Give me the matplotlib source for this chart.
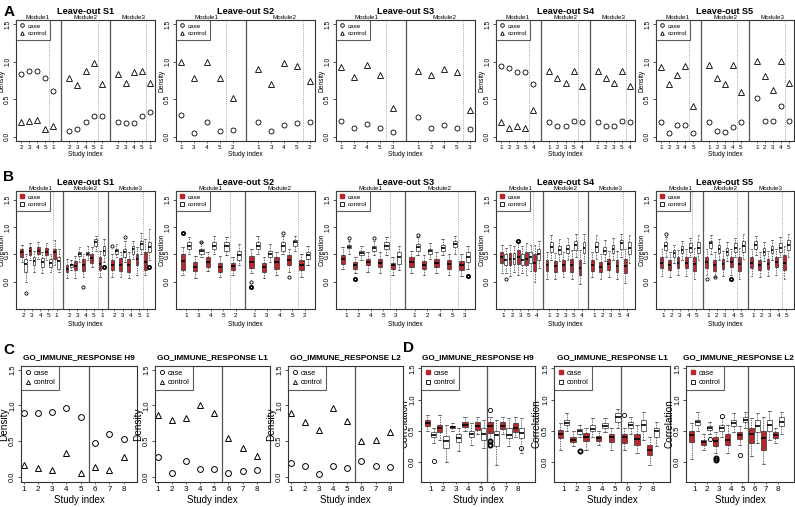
import matplotlib
matplotlib.use('Agg')
import matplotlib.pyplot as plt
from matplotlib.lines import Line2D
import matplotlib.transforms as mtransforms

plt.rcParams['font.family'] = ['Liberation Sans', 'DejaVu Sans']

W, H = 795, 507
RED = '#b8272b'
EDGE = '#333333'

# ---------------- leave-out layout ----------------
lo_titles = ['Leave-out S1', 'Leave-out S2', 'Leave-out S3', 'Leave-out S4', 'Leave-out S5']
lo_modules = [3, 2, 2, 3, 3]
lo_labels = [['2', '3', '4', '5', '1'], ['1', '3', '4', '5', '2'], ['1', '2', '4', '5', '3'],
             ['1', '2', '3', '5', '4'], ['1', '2', '3', '4', '5']]

# ---------------- A: density (case / control) ----------------
a_case = [
    [0.84, 0.88, 0.88, 0.78, 0.61, 0.08, 0.10, 0.20, 0.28, 0.28, 0.19, 0.18, 0.18, 0.28, 0.33],
    [0.29, 0.05, 0.20, 0.07, 0.09, 0.19, 0.07, 0.15, 0.18, 0.20],
    [0.21, 0.11, 0.17, 0.11, 0.06, 0.26, 0.11, 0.16, 0.11, 0.10],
    [0.94, 0.92, 0.86, 0.86, 0.70, 0.19, 0.14, 0.14, 0.21, 0.19, 0.19, 0.14, 0.14, 0.21, 0.19],
    [0.19, 0.05, 0.16, 0.16, 0.05, 0.19, 0.08, 0.06, 0.13, 0.19, 0.51, 0.21, 0.21, 0.41, 0.21],
]
a_ctrl = [
    [0.19, 0.21, 0.22, 0.10, 0.14, 0.79, 0.69, 0.88, 0.99, 0.70, 0.84, 0.71, 0.87, 0.88, 0.71],
    [1.00, 0.79, 1.00, 0.79, 0.51, 0.90, 0.70, 0.99, 0.94, 0.74],
    [0.93, 0.80, 0.96, 0.82, 0.38, 0.88, 0.82, 0.91, 0.86, 0.35],
    [0.19, 0.12, 0.14, 0.11, 0.35, 0.88, 0.78, 0.72, 0.88, 0.68, 0.88, 0.78, 0.72, 0.88, 0.68],
    [0.93, 0.70, 0.83, 0.95, 0.41, 0.96, 0.78, 0.70, 0.96, 0.59, 1.01, 0.81, 0.62, 1.01, 0.72],
]

# ---------------- B: correlation boxes (lo, q1, med, q3, hi) ----------------
b_case = [
    [(0.36, 0.45, 0.54, 0.60, 0.67), (0.39, 0.48, 0.56, 0.63, 0.71), (0.41, 0.50, 0.57, 0.63, 0.72),
     (0.39, 0.48, 0.55, 0.61, 0.71), (0.30, 0.42, 0.54, 0.60, 0.77),
     (0.06, 0.17, 0.24, 0.30, 0.42), (0.06, 0.21, 0.28, 0.37, 0.47), (0.09, 0.19, 0.30, 0.41, 0.51),
     (0.27, 0.35, 0.43, 0.51, 0.63), (0.09, 0.21, 0.33, 0.45, 0.57),
     (0.09, 0.21, 0.30, 0.39, 0.51), (0.09, 0.19, 0.30, 0.43, 0.54), (0.06, 0.17, 0.30, 0.41, 0.54),
     (0.12, 0.30, 0.41, 0.51, 0.63), (0.12, 0.21, 0.36, 0.54, 0.78)],
    [(0.12, 0.21, 0.37, 0.51, 0.63), (0.07, 0.19, 0.27, 0.36, 0.47), (0.19, 0.27, 0.36, 0.45, 0.54),
     (0.09, 0.18, 0.27, 0.35, 0.47), (0.12, 0.21, 0.28, 0.34, 0.45),
     (0.15, 0.25, 0.36, 0.47, 0.59), (0.07, 0.17, 0.27, 0.35, 0.45), (0.12, 0.24, 0.36, 0.45, 0.55),
     (0.18, 0.30, 0.39, 0.48, 0.60), (0.09, 0.21, 0.30, 0.39, 0.51)],
    [(0.24, 0.33, 0.41, 0.48, 0.63), (0.15, 0.24, 0.30, 0.36, 0.45), (0.18, 0.30, 0.36, 0.42, 0.54),
     (0.15, 0.27, 0.35, 0.42, 0.54), (0.12, 0.24, 0.30, 0.35, 0.45),
     (0.15, 0.27, 0.36, 0.45, 0.57), (0.12, 0.24, 0.30, 0.38, 0.48), (0.15, 0.27, 0.35, 0.42, 0.54),
     (0.12, 0.24, 0.32, 0.40, 0.51), (0.10, 0.22, 0.30, 0.38, 0.50)],
    [(0.15, 0.35, 0.45, 0.55, 0.68), (0.10, 0.30, 0.42, 0.52, 0.68), (0.12, 0.32, 0.45, 0.58, 0.72),
     (0.12, 0.30, 0.42, 0.55, 0.70), (0.00, 0.20, 0.35, 0.50, 0.68),
     (0.05, 0.20, 0.30, 0.40, 0.55), (0.05, 0.18, 0.28, 0.38, 0.52), (0.08, 0.20, 0.30, 0.40, 0.55),
     (0.05, 0.18, 0.30, 0.42, 0.58), (-0.05, 0.12, 0.25, 0.40, 0.58),
     (0.08, 0.20, 0.30, 0.40, 0.55), (0.05, 0.18, 0.27, 0.36, 0.50), (0.08, 0.22, 0.32, 0.42, 0.56),
     (0.05, 0.18, 0.28, 0.40, 0.56), (-0.02, 0.15, 0.28, 0.42, 0.60)],
    [(0.10, 0.25, 0.35, 0.45, 0.60), (0.08, 0.22, 0.30, 0.40, 0.55), (0.12, 0.25, 0.35, 0.45, 0.58),
     (0.10, 0.25, 0.35, 0.45, 0.60), (0.05, 0.20, 0.32, 0.45, 0.62),
     (0.12, 0.25, 0.36, 0.46, 0.60), (0.08, 0.20, 0.30, 0.40, 0.55), (0.10, 0.24, 0.33, 0.42, 0.56),
     (0.12, 0.26, 0.36, 0.46, 0.60), (0.05, 0.20, 0.32, 0.45, 0.62),
     (0.10, 0.25, 0.35, 0.45, 0.60), (0.08, 0.22, 0.30, 0.40, 0.55), (0.10, 0.24, 0.33, 0.42, 0.56),
     (0.12, 0.26, 0.36, 0.46, 0.60), (0.05, 0.22, 0.35, 0.48, 0.65)],
]
b_ctrl = [
    [(0.00, 0.17, 0.33, 0.42, 0.51), (0.18, 0.30, 0.37, 0.45, 0.57), (0.15, 0.27, 0.36, 0.43, 0.54),
     (0.17, 0.27, 0.35, 0.41, 0.51), (0.17, 0.24, 0.37, 0.45, 0.60),
     (0.21, 0.27, 0.30, 0.33, 0.39), (0.36, 0.47, 0.51, 0.54, 0.63), (0.39, 0.48, 0.51, 0.55, 0.66),
     (0.57, 0.66, 0.73, 0.78, 0.84), (0.36, 0.48, 0.57, 0.66, 0.78),
     (0.45, 0.51, 0.56, 0.60, 0.69), (0.36, 0.45, 0.54, 0.60, 0.75), (0.42, 0.51, 0.59, 0.66, 0.75),
     (0.51, 0.60, 0.69, 0.75, 0.90), (0.39, 0.54, 0.63, 0.73, 0.96)],
    [(0.51, 0.59, 0.66, 0.72, 0.81), (0.45, 0.51, 0.56, 0.60, 0.72), (0.51, 0.60, 0.66, 0.72, 0.83),
     (0.48, 0.57, 0.66, 0.73, 0.81), (0.30, 0.39, 0.48, 0.57, 0.69),
     (0.51, 0.60, 0.66, 0.72, 0.83), (0.36, 0.45, 0.51, 0.57, 0.69), (0.51, 0.57, 0.66, 0.73, 0.84),
     (0.57, 0.66, 0.72, 0.77, 0.84), (0.30, 0.41, 0.48, 0.54, 0.66)],
    [(0.51, 0.61, 0.64, 0.67, 0.75), (0.39, 0.48, 0.52, 0.57, 0.66), (0.48, 0.57, 0.61, 0.66, 0.75),
     (0.48, 0.60, 0.66, 0.72, 0.81), (0.21, 0.33, 0.45, 0.54, 0.66),
     (0.48, 0.57, 0.63, 0.69, 0.81), (0.42, 0.51, 0.56, 0.60, 0.70), (0.48, 0.57, 0.62, 0.67, 0.78),
     (0.51, 0.63, 0.69, 0.74, 0.84), (0.24, 0.36, 0.45, 0.54, 0.66)],
    [(0.15, 0.30, 0.40, 0.50, 0.62), (0.18, 0.32, 0.42, 0.52, 0.65), (0.15, 0.30, 0.40, 0.50, 0.65),
     (0.20, 0.35, 0.45, 0.55, 0.68), (0.25, 0.40, 0.50, 0.60, 0.75),
     (0.40, 0.55, 0.63, 0.72, 0.85), (0.38, 0.50, 0.58, 0.65, 0.78), (0.40, 0.52, 0.60, 0.67, 0.80),
     (0.45, 0.58, 0.68, 0.75, 0.88), (0.35, 0.52, 0.62, 0.72, 0.88),
     (0.42, 0.55, 0.64, 0.72, 0.85), (0.38, 0.50, 0.57, 0.64, 0.76), (0.40, 0.52, 0.60, 0.68, 0.80),
     (0.45, 0.60, 0.70, 0.76, 0.88), (0.35, 0.50, 0.62, 0.72, 0.86)],
    [(0.45, 0.58, 0.65, 0.72, 0.82), (0.35, 0.45, 0.52, 0.58, 0.68), (0.40, 0.52, 0.58, 0.65, 0.75),
     (0.45, 0.55, 0.62, 0.70, 0.80), (0.40, 0.52, 0.62, 0.72, 0.85),
     (0.50, 0.62, 0.70, 0.75, 0.85), (0.40, 0.52, 0.60, 0.68, 0.78), (0.38, 0.48, 0.55, 0.62, 0.72),
     (0.45, 0.55, 0.62, 0.70, 0.80), (0.42, 0.55, 0.65, 0.75, 0.88),
     (0.48, 0.60, 0.68, 0.74, 0.84), (0.38, 0.48, 0.55, 0.62, 0.72), (0.40, 0.52, 0.58, 0.65, 0.76),
     (0.45, 0.55, 0.62, 0.70, 0.82), (0.45, 0.58, 0.68, 0.76, 0.88)],
]
# outliers: (panel, 'case'/'ctrl', box index, value, heavy)
b_outliers = [
    (0, 'ctrl', 0, -0.21, False), (0, 'case', 7, -0.09, False), (0, 'ctrl', 9, 0.27, True),
    (0, 'case', 10, 0.66, False), (0, 'ctrl', 11, 0.81, False), (0, 'ctrl', 14, 0.27, True),
    (1, 'case', 0, 0.89, True), (1, 'ctrl', 1, 0.73, False), (1, 'case', 5, 0.00, False),
    (1, 'case', 5, -0.09, True), (1, 'ctrl', 7, 0.90, False), (1, 'case', 8, 0.09, False),
    (2, 'ctrl', 0, 0.80, False), (2, 'case', 1, 0.05, True), (2, 'ctrl', 2, 0.80, False),
    (2, 'ctrl', 5, 0.85, False), (2, 'ctrl', 9, 0.10, True),
    (3, 'case', 2, 0.75, True), (3, 'ctrl', 0, 0.05, False),
    (4, 'ctrl', 0, 0.88, False), (4, 'case', 5, 0.05, False), (4, 'case', 6, 0.08, False),
    (4, 'case', 8, 0.05, True),
]

# ---------------- C: density for GO_IMMUNE_RESPONSE ----------------
go_titles = ['GO_IMMUNE_RESPONSE H9', 'GO_IMMUNE_RESPONSE L1', 'GO_IMMUNE_RESPONSE L2']
study_idx = [1, 2, 3, 4, 5, 6, 7, 8]
c_case = [
    [0.89, 0.89, 0.91, 0.96, 0.84, 0.47, 0.60, 0.53],
    [0.28, 0.06, 0.22, 0.11, 0.11, 0.06, 0.08, 0.10],
    [0.20, 0.15, 0.04, 0.15, 0.13, 0.22, 0.15, 0.14],
]
c_ctrl = [
    [0.17, 0.12, 0.10, 0.33, 0.05, 0.14, 0.10, 0.28],
    [0.87, 0.79, 0.82, 1.01, 0.90, 0.54, 0.40, 0.30],
    [0.89, 0.77, 0.66, 0.96, 0.78, 0.50, 0.52, 0.63],
]

# ---------------- D: correlation boxes (lo, q1, med, q3, hi) ----------------
d_case = [
    [(0.50, 0.58, 0.62, 0.67, 0.75), (0.35, 0.48, 0.55, 0.60, 0.75), (0.50, 0.54, 0.56, 0.58, 0.62),
     (0.50, 0.56, 0.60, 0.64, 0.72), (0.45, 0.52, 0.58, 0.64, 0.73), (0.30, 0.47, 0.58, 0.64, 0.73),
     (0.45, 0.53, 0.58, 0.64, 0.73), (0.40, 0.48, 0.55, 0.62, 0.73)],
    [(0.20, 0.38, 0.45, 0.52, 0.63), (0.25, 0.32, 0.35, 0.40, 0.50), (0.20, 0.33, 0.40, 0.47, 0.55),
     (0.28, 0.34, 0.38, 0.42, 0.50), (0.20, 0.32, 0.40, 0.45, 0.55), (0.20, 0.30, 0.40, 0.45, 0.55),
     (0.15, 0.28, 0.37, 0.45, 0.60), (-0.05, 0.12, 0.20, 0.28, 0.40)],
    [(0.05, 0.32, 0.43, 0.50, 0.63), (0.20, 0.28, 0.32, 0.36, 0.45), (0.15, 0.25, 0.33, 0.40, 0.48),
     (0.15, 0.28, 0.35, 0.45, 0.60), (0.28, 0.37, 0.43, 0.48, 0.58), (0.10, 0.30, 0.45, 0.55, 0.70),
     (-0.03, 0.20, 0.38, 0.50, 0.72), (0.30, 0.38, 0.43, 0.48, 0.55)],
]
d_ctrl = [
    [(0.30, 0.40, 0.43, 0.48, 0.55), (0.00, 0.22, 0.33, 0.42, 0.60), (0.18, 0.32, 0.38, 0.45, 0.55),
     (0.28, 0.40, 0.45, 0.50, 0.62), (0.22, 0.35, 0.45, 0.55, 0.68), (-0.05, 0.25, 0.43, 0.50, 0.68),
     (0.25, 0.38, 0.44, 0.55, 0.70), (0.15, 0.38, 0.47, 0.55, 0.70)],
    [(0.50, 0.60, 0.63, 0.68, 0.78), (0.40, 0.45, 0.50, 0.53, 0.60), (0.40, 0.49, 0.53, 0.60, 0.70),
     (0.48, 0.55, 0.57, 0.62, 0.70), (0.55, 0.65, 0.72, 0.78, 0.85), (0.45, 0.55, 0.60, 0.65, 0.72),
     (0.35, 0.50, 0.60, 0.67, 0.80), (0.25, 0.40, 0.50, 0.55, 0.65)],
    [(0.50, 0.60, 0.65, 0.68, 0.80), (0.45, 0.52, 0.55, 0.58, 0.65), (0.40, 0.50, 0.55, 0.60, 0.70),
     (0.48, 0.58, 0.62, 0.68, 0.78), (0.55, 0.65, 0.68, 0.72, 0.80), (0.30, 0.48, 0.58, 0.68, 0.78),
     (0.35, 0.50, 0.60, 0.68, 0.82), (0.45, 0.58, 0.65, 0.72, 0.80)],
]
d_outliers = [
    (0, 'ctrl', 0, 0.01, False), (0, 'case', 5, 0.83, False), (0, 'case', 5, 0.33, True),
    (0, 'case', 5, 0.28, True), (0, 'ctrl', 7, 0.22, False),
    (1, 'ctrl', 1, 0.18, True), (1, 'case', 5, 0.75, False),
    (2, 'case', 2, 0.03, True), (2, 'case', 2, 0.06, True), (2, 'case', 4, 0.12, False),
    (2, 'ctrl', 2, 0.74, False), (2, 'ctrl', 1, 0.37, False),
]

fig = plt.figure(figsize=(W / 100, H / 100), dpi=100)


def rect(x0, y0, x1, y1):
    return [x0 / W, 1 - y1 / H, (x1 - x0) / W, (y1 - y0) / H]


def style_axes(ax, ytick_size, xtick_size):
    for s in ax.spines.values():
        s.set_color(EDGE)
        s.set_linewidth(0.8)
    ax.set_yticks([0, 0.5, 1.0, 1.5])
    ax.set_yticklabels(['0.0', '0.5', '1.0', '1.5'], rotation=90, va='center', fontsize=ytick_size)
    ax.tick_params(axis='y', length=2.5, width=0.6, pad=1, color=EDGE)
    ax.tick_params(axis='x', length=1.5, width=0.5, pad=1.2, labelsize=xtick_size, color=EDGE)


def draw_boxes(ax, xs, stats, face, width):
    st = [dict(whislo=s[0], q1=s[1], med=s[2], q3=s[3], whishi=s[4], fliers=[]) for s in stats]
    ax.bxp(st, positions=xs, widths=width, patch_artist=True, showfliers=False, manage_ticks=False,
           capwidths=width * 0.6,
           boxprops=dict(facecolor=face, edgecolor=EDGE, linewidth=0.5),
           medianprops=dict(color='black', linewidth=1.2, solid_capstyle='butt'),
           whiskerprops=dict(color=EDGE, linewidth=0.5, linestyle=(0, (2, 1.5))),
           capprops=dict(color=EDGE, linewidth=0.5))


def draw_outliers(ax, outliers, k, xs, off, ms):
    for p, ser, i, v, heavy in outliers:
        if p == k:
            dx = -off if ser == 'case' else off
            ax.plot(xs[i] + dx, v, 'o', mfc='none', mec='k', ms=ms, mew=1.3 if heavy else 0.6)


def legend(ax, kind, fs, ms):
    if kind == 'density':
        h = [Line2D([], [], marker='o', ls='none', mfc='none', mec='k', ms=ms, mew=0.6, label='case'),
             Line2D([], [], marker='^', ls='none', mfc='none', mec='k', ms=ms, mew=0.6, label='control')]
    else:
        h = [Line2D([], [], marker='s', ls='none', mfc=RED, mec=RED, ms=ms, label='case'),
             Line2D([], [], marker='s', ls='none', mfc='white', mec='k', ms=ms, mew=0.6, label='control')]
    leg = ax.legend(handles=h, loc='upper left', borderaxespad=0, frameon=True, fancybox=False,
                    fontsize=fs, handlelength=0.8, handletextpad=0.5, borderpad=0.5, labelspacing=0.35)
    leg.get_frame().set_edgecolor(EDGE)
    leg.get_frame().set_linewidth(0.8)


ab_cols = [(16, 155), (176, 315), (336, 475), (496, 635), (656, 794)]


def leave_out_panel(k, top, bot, kind):
    x0, x1 = ab_cols[k]
    ax = fig.add_axes(rect(x0, top, x1, bot))
    nm = lo_modules[k]
    if kind == 'density':
        step = 6.0
        n = nm * 6 - 1
        pad = 0.04 * (n - 1)
        xlim = (1 - pad, n + pad)
    else:
        step = 5.5
        xlim = (0.06, 16.93) if nm == 3 else (0.21, 11.34)
    xs = [m * step + j + 1 for m in range(nm) for j in range(5)]
    if kind == 'density':
        ax.plot(xs, a_case[k], 'o', mfc='none', mec='k', ms=3.6, mew=0.6)
        ax.plot(xs, a_ctrl[k], '^', mfc='none', mec='k', ms=4.2, mew=0.6)
        ax.set_ylim(-0.06, 1.56)
        ylab = 'Density'
    else:
        w = 0.34
        draw_boxes(ax, [x - 0.25 for x in xs], b_case[k], RED, w)
        draw_boxes(ax, [x + 0.25 for x in xs], b_ctrl[k], 'white', w)
        draw_outliers(ax, b_outliers, k, xs, 0.25, 2.3)
        ax.set_ylim(-0.5, 1.66)
        ylab = 'Correlation'
    ax.set_xlim(*xlim)
    trans = mtransforms.blended_transform_factory(ax.transData, fig.transFigure)
    for m in range(nm):
        # dotted line before the left-out study, solid line between modules
        ax.axvline(m * step + 4.5, color='#888888', lw=0.6, ls=(0, (1, 1.5)))
        if m > 0:
            ax.axvline(m * step + 3 - step / 2, color='#555555', lw=0.9)
        ax.text(m * step + 3, 1 - (top - 0.6) / H, 'Module%d' % (m + 1), transform=trans,
                ha='center', va='baseline', fontsize=4.5)
    ax.set_xticks(xs)
    ax.set_xticklabels(lo_labels[k] * nm)
    style_axes(ax, 4.8, 4.6)
    ax.set_ylabel(ylab, fontsize=4.8)
    ax.yaxis.set_label_coords(-0.075, 0.5)
    legend(ax, kind, 4.6, 2.6)
    cx = (x0 + x1) / 2 / W
    return ax, cx


for k in range(5):
    ax, cx = leave_out_panel(k, 20, 141, 'density')
    fig.text(cx, 1 - 13.6 / H, lo_titles[k], ha='center', va='baseline', fontsize=6.6, fontweight='bold')
    fig.text(cx, 1 - 155 / H, 'Study index', ha='center', va='center', fontsize=4.8)
    ax, cx = leave_out_panel(k, 191, 309, 'box')
    fig.text(cx, 1 - 184.6 / H, lo_titles[k], ha='center', va='baseline', fontsize=6.6, fontweight='bold')
    fig.text(cx, 1 - 324 / H, 'Study index', ha='center', va='center', fontsize=4.8)

cd_cols = [(21, 137), (155, 270), (288, 403), (421, 535), (554, 670), (686, 794)]


def go_title(k, x0, x1):
    if x1 > 790:
        fig.text(794 / W, 1 - 358 / H, go_titles[k], ha='right', va='center', fontsize=5.9, fontweight='bold')
    else:
        fig.text((x0 + x1) / 2 / W, 1 - 358 / H, go_titles[k], ha='center', va='center',
                 fontsize=5.9, fontweight='bold')


for k in range(3):
    # C
    x0, x1 = cd_cols[k]
    ax = fig.add_axes(rect(x0, 366, x1, 482))
    ax.plot(study_idx, c_case[k], 'o', mfc='none', mec='k', ms=4.2, mew=0.7)
    ax.plot(study_idx, c_ctrl[k], '^', mfc='none', mec='k', ms=4.8, mew=0.7)
    ax.axvline(5.55, color='#555555', lw=0.9)
    ax.set_xlim(0.82, 8.93)
    ax.set_ylim(-0.07, 1.55)
    ax.set_xticks(study_idx)
    style_axes(ax, 5.4, 5.8)
    ax.set_ylabel('Density', fontsize=7.2)
    ax.yaxis.set_label_coords(-0.105, 0.5)
    legend(ax, 'density', 5.2, 3.0)
    go_title(k, x0, x1)
    fig.text((x0 + x1) / 2 / W, 1 - 500 / H, 'Study index', ha='center', va='center', fontsize=7.0)

    # D
    x0, x1 = cd_cols[k + 3]
    ax = fig.add_axes(rect(x0, 366, x1, 482))
    w = 0.42
    draw_boxes(ax, [s - 0.25 for s in study_idx], d_case[k], RED, w)
    draw_boxes(ax, [s + 0.25 for s in study_idx], d_ctrl[k], 'white', w)
    draw_outliers(ax, d_outliers, k, study_idx, 0.25, 3.0)
    ax.axvline(5.5, color='#555555', lw=0.9)
    ax.set_xlim(0.25, 9.33)
    ax.set_ylim(-0.32, 1.54)
    ax.set_xticks(study_idx)
    style_axes(ax, 5.4, 5.8)
    ax.set_ylabel('Correlation', fontsize=7.2)
    ax.yaxis.set_label_coords(-0.105, 0.5)
    legend(ax, 'box', 5.2, 3.0)
    go_title(k, x0, x1)
    fig.text((x0 + x1) / 2 / W, 1 - 500 / H, 'Study index', ha='center', va='center', fontsize=7.0)

for lab, x, y in [('A', 9, 12), ('B', 9, 177), ('C', 9, 350), ('D', 409, 348)]:
    fig.text(x / W, 1 - y / H, lab, ha='center', va='center', fontsize=11, fontweight='bold')

fig.savefig('out.png', dpi=100)
